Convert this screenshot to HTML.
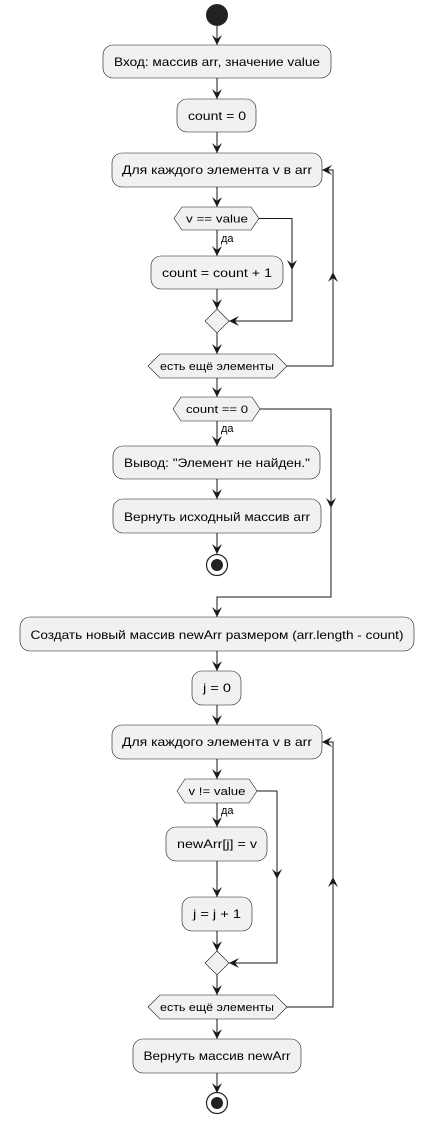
<!DOCTYPE html>
<html><head><meta charset="utf-8"><style>
html,body{margin:0;padding:0;background:#fff;width:440px;height:1123px;overflow:hidden}
svg{display:block}
text{font-family:"Liberation Sans","DejaVu Sans",sans-serif;font-size:12px;fill:#000}
.b{fill:#f1f1f1;stroke:#181818;stroke-width:0.6}
.l{stroke:#181818;stroke-width:1;fill:none}
.a{fill:#181818;stroke:none}
.s{font-size:11px}
</style></head><body>
<svg width="440" height="1123" viewBox="0 0 440 1123" xmlns="http://www.w3.org/2000/svg">
<defs>
<g id="ad"><polygon class="a" points="-5,-10 0,0 5,-10 0,-6"/></g>
<g id="au"><polygon class="a" points="-5,10 0,0 5,10 0,6"/></g>
<g id="al"><polygon class="a" points="10,-5 0,0 10,5 6,0"/></g>
</defs>
<!-- start -->
<circle cx="217" cy="15" r="11" fill="#222"/>
<line class="l" x1="217" y1="26" x2="217" y2="45"/><use href="#ad" x="217" y="45"/>
<rect class="b" x="103" y="45" width="228" height="33" rx="10"/>
<text x="217" y="66" text-anchor="middle" textLength="206" lengthAdjust="spacingAndGlyphs">Вход: массив arr, значение value</text>
<line class="l" x1="217" y1="78" x2="217" y2="99"/><use href="#ad" x="217" y="99"/>
<rect class="b" x="177" y="99" width="79" height="33" rx="10"/>
<text x="217" y="120" text-anchor="middle" textLength="58" lengthAdjust="spacingAndGlyphs">count = 0</text>
<line class="l" x1="217" y1="132" x2="217" y2="153"/><use href="#ad" x="217" y="153"/>
<rect class="b" x="112" y="153" width="210" height="34" rx="10"/>
<text x="217" y="174" text-anchor="middle" textLength="190" lengthAdjust="spacingAndGlyphs">Для каждого элемента v в arr</text>
<line class="l" x1="217" y1="187" x2="217" y2="207"/><use href="#ad" x="217" y="207"/>
<polygon class="b" points="174,218.5 182,207 251,207 259,218.5 251,230 182,230"/>
<text class="s" x="217" y="222.5" text-anchor="middle" textLength="62" lengthAdjust="spacingAndGlyphs">v == value</text>
<text class="s" x="221" y="242">да</text>
<line class="l" x1="217" y1="230" x2="217" y2="256"/><use href="#ad" x="217" y="256"/>
<rect class="b" x="151" y="256" width="132" height="33" rx="10"/>
<text x="217" y="277" text-anchor="middle" textLength="110" lengthAdjust="spacingAndGlyphs">count = count + 1</text>
<polyline class="l" points="259,218.5 292,218.5 292,321 229,321"/>
<use href="#ad" x="292" y="270"/><use href="#al" x="229" y="321"/>
<line class="l" x1="217" y1="289" x2="217" y2="309"/><use href="#ad" x="217" y="309"/>
<polygon class="b" points="217,309 229,321 217,333 205,321"/>
<line class="l" x1="217" y1="333" x2="217" y2="354"/><use href="#ad" x="217" y="354"/>
<polygon class="b" points="148,366 160,354 275,354 287,366 275,378 160,378"/>
<text class="s" x="217" y="370" text-anchor="middle" textLength="114" lengthAdjust="spacingAndGlyphs">есть ещё элементы</text>
<polyline class="l" points="287,366 333,366 333,170 322,170"/>
<use href="#au" x="333" y="272"/><use href="#al" x="322" y="170"/>
<line class="l" x1="217" y1="378" x2="217" y2="397"/><use href="#ad" x="217" y="397"/>
<polygon class="b" points="173,409 181,397 252,397 260,409 252,421 181,421"/>
<text class="s" x="217" y="413" text-anchor="middle" textLength="62" lengthAdjust="spacingAndGlyphs">count == 0</text>
<text class="s" x="221" y="432">да</text>
<line class="l" x1="217" y1="421" x2="217" y2="446"/><use href="#ad" x="217" y="446"/>
<rect class="b" x="113" y="446" width="207" height="33" rx="10"/>
<text x="217" y="467" text-anchor="middle" textLength="186" lengthAdjust="spacingAndGlyphs">Вывод: "Элемент не найден."</text>
<line class="l" x1="217" y1="479" x2="217" y2="499"/><use href="#ad" x="217" y="499"/>
<rect class="b" x="113" y="499" width="208" height="34" rx="10"/>
<text x="217" y="521" text-anchor="middle" textLength="186" lengthAdjust="spacingAndGlyphs">Вернуть исходный массив arr</text>
<line class="l" x1="217" y1="533" x2="217" y2="554"/><use href="#ad" x="217" y="554"/>
<circle cx="217" cy="565" r="10.5" fill="#fff" stroke="#222" stroke-width="1.2"/>
<circle cx="217" cy="565" r="6" fill="#222"/>
<polyline class="l" points="260,409 331,409 331,597 217,597 217,617"/>
<use href="#ad" x="331" y="508"/><use href="#ad" x="217" y="617"/>
<rect class="b" x="20" y="617" width="394" height="34" rx="10"/>
<text x="217" y="639" text-anchor="middle" textLength="373" lengthAdjust="spacingAndGlyphs">Создать новый массив newArr размером (arr.length - count)</text>
<line class="l" x1="217" y1="651" x2="217" y2="671"/><use href="#ad" x="217" y="671"/>
<rect class="b" x="192" y="671" width="49" height="34" rx="10"/>
<text x="217" y="692" text-anchor="middle" textLength="28" lengthAdjust="spacingAndGlyphs">j = 0</text>
<line class="l" x1="217" y1="705" x2="217" y2="725"/><use href="#ad" x="217" y="725"/>
<rect class="b" x="112" y="725" width="210" height="34" rx="10"/>
<text x="217" y="746" text-anchor="middle" textLength="190" lengthAdjust="spacingAndGlyphs">Для каждого элемента v в arr</text>
<line class="l" x1="217" y1="759" x2="217" y2="779"/><use href="#ad" x="217" y="779"/>
<polygon class="b" points="177,791 185,779 249,779 257,791 249,803 185,803"/>
<text class="s" x="217" y="795" text-anchor="middle" textLength="57" lengthAdjust="spacingAndGlyphs">v != value</text>
<text class="s" x="221" y="814">да</text>
<line class="l" x1="217" y1="803" x2="217" y2="827"/><use href="#ad" x="217" y="827"/>
<rect class="b" x="166" y="827" width="101" height="34" rx="10"/>
<text x="217" y="848" text-anchor="middle" textLength="80" lengthAdjust="spacingAndGlyphs">newArr[j] = v</text>
<line class="l" x1="217" y1="861" x2="217" y2="897"/><use href="#ad" x="217" y="897"/>
<rect class="b" x="182" y="897" width="70" height="34" rx="10"/>
<text x="217" y="918" text-anchor="middle" textLength="48" lengthAdjust="spacingAndGlyphs">j = j + 1</text>
<polyline class="l" points="257,791 277,791 277,963 229,963"/>
<use href="#ad" x="277" y="879"/><use href="#al" x="229" y="963"/>
<line class="l" x1="217" y1="931" x2="217" y2="951"/><use href="#ad" x="217" y="951"/>
<polygon class="b" points="217,951 229,963 217,975 205,963"/>
<line class="l" x1="217" y1="975" x2="217" y2="995"/><use href="#ad" x="217" y="995"/>
<polygon class="b" points="148,1007 160,995 275,995 287,1007 275,1019 160,1019"/>
<text class="s" x="217" y="1011" text-anchor="middle" textLength="114" lengthAdjust="spacingAndGlyphs">есть ещё элементы</text>
<polyline class="l" points="287,1007 333,1007 333,742 322,742"/>
<use href="#au" x="333" y="877"/><use href="#al" x="322" y="742"/>
<line class="l" x1="217" y1="1019" x2="217" y2="1039"/><use href="#ad" x="217" y="1039"/>
<rect class="b" x="133" y="1039" width="168" height="34" rx="10"/>
<text x="217" y="1060" text-anchor="middle" textLength="147" lengthAdjust="spacingAndGlyphs">Вернуть массив newArr</text>
<line class="l" x1="217" y1="1073" x2="217" y2="1093"/><use href="#ad" x="217" y="1093"/>
<circle cx="217" cy="1103" r="10.5" fill="#fff" stroke="#222" stroke-width="1.2"/>
<circle cx="217" cy="1103" r="6" fill="#222"/>
</svg>
</body></html>
